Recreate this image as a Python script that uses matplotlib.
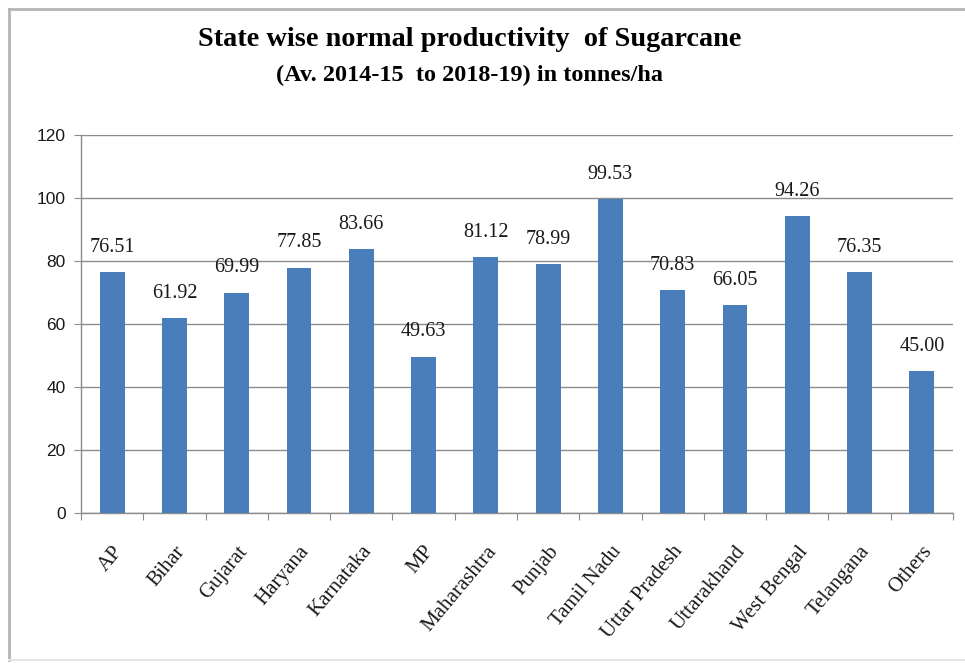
import matplotlib
matplotlib.use("Agg")
import matplotlib.pyplot as plt
import numpy as np
from matplotlib.lines import Line2D

states = [
    "AP", "Bihar", "Gujarat", "Haryana", "Karnataka", "MP", "Maharashtra",
    "Punjab", "Tamil Nadu", "Uttar Pradesh", "Uttarakhand", "West Bengal",
    "Telangana", "Others",
]
productivity = [
    76.51, 61.92, 69.99, 77.85, 83.66, 49.63, 81.12,
    78.99, 99.53, 70.83, 66.05, 94.26, 76.35, 45.00,
]
y_ticks = [0, 20, 40, 60, 80, 100, 120]

BAR_COLOR = "#4a7ebb"
GRID_COLOR = "#8c8c8c"
SERIF = "Liberation Serif"
SANS = "Liberation Sans"

fig = plt.figure(figsize=(9.65, 6.65), dpi=100)
ax = fig.add_axes([81 / 965, 1 - 513 / 665, (953 - 81) / 965, (513 - 135) / 665])

x = np.arange(len(states))
ax.bar(x, productivity, width=0.4, color=BAR_COLOR, zorder=3)

for xi, val in zip(x, productivity):
    ax.annotate(f"{val:.2f}", (xi, val), xytext=(0, 11), textcoords="offset points",
                ha="center", va="bottom", fontsize=14.5, family=SERIF, color="#1a1a1a")

ax.set_xlim(-0.5, len(states) - 0.5)
ax.set_ylim(0, 120)
ax.set_yticks(y_ticks)
ax.set_yticklabels([str(t) for t in y_ticks], family=SANS, fontsize=12.5, color="#1a1a1a")
ax.yaxis.grid(True, color=GRID_COLOR, linewidth=1, zorder=0)
ax.set_axisbelow(True)

# category boundary ticks on x
ax.set_xticks(np.arange(len(states) + 1) - 0.5)
ax.set_xticklabels([])
ax.set_xticks(x, minor=True)
ax.set_xticklabels(states, minor=True, rotation=50, ha="right", rotation_mode="anchor",
                   family=SERIF, fontsize=15, color="#1a1a1a")
ax.tick_params(axis="x", which="minor", length=0, pad=21)
ax.tick_params(axis="x", which="major", length=5, color=GRID_COLOR)
ax.tick_params(axis="y", length=5, color=GRID_COLOR, pad=6)

for side in ("top", "right"):
    ax.spines[side].set_visible(False)
for side in ("left", "bottom"):
    ax.spines[side].set_color(GRID_COLOR)
    ax.spines[side].set_linewidth(1)

fig.text(0.487, 1 - 39 / 665, "State wise normal productivity  of Sugarcane",
         ha="center", va="center", family=SERIF, fontweight="bold", fontsize=20.3)
fig.text(0.487, 1 - 75 / 665, "(Av. 2014-15  to 2018-19) in tonnes/ha",
         ha="center", va="center", family=SERIF, fontweight="bold", fontsize=17.5)

# chart frame
fig.add_artist(Line2D([9 / 965, 9 / 965], [1 - 9 / 665, 1 - 660 / 665],
                      transform=fig.transFigure, color="#b5b5b5", linewidth=2))
fig.add_artist(Line2D([9 / 965, 1], [1 - 9 / 665, 1 - 9 / 665],
                      transform=fig.transFigure, color="#b5b5b5", linewidth=2))
fig.add_artist(Line2D([9 / 965, 1], [1 - 660 / 665, 1 - 660 / 665],
                      transform=fig.transFigure, color="#e6e6e6", linewidth=1.5))

fig.savefig("out.png", dpi=100)
